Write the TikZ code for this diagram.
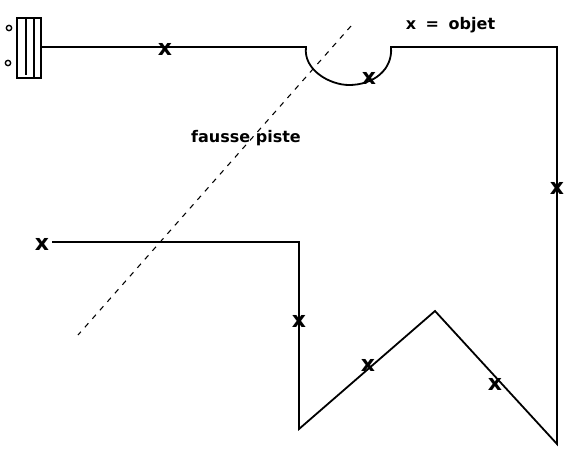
\documentclass[tikz,border=0pt]{standalone}
\usepackage{fontspec}
\setmainfont{DejaVu Sans}
\tikzset{
  wire/.style={draw=black,line width=1.35pt,line join=miter},
  mark x/.style={inner sep=0pt,font=\bfseries\fontsize{16.5pt}{16pt}\selectfont},
  label txt/.style={inner sep=0pt,font=\bfseries\fontsize{12pt}{12pt}\selectfont},
  pin/.style={circle,draw=black,line width=1pt,inner sep=0pt,minimum size=4pt}
}
\begin{document}
\begin{tikzpicture}[x=0.75pt,y=-0.75pt]
\useasboundingbox (0,0) rectangle (581,455);
% box
\node[pin] (p1) at (9,28) {};
\node[pin] (p2) at (8,63) {};
\coordinate (bw) at (41,47);
\draw[wire] (17,18) rectangle (41,78);
\draw[wire] (26,18) -- (26,75);
\draw[wire] (34,18) -- (34,78);
% main line with pit
\draw[wire] (bw) -- (306,47)
  .. controls (303,70) and (330,85) .. (349,85) .. controls (373,85) and (393,70) .. (391,47)
  -- (557,47) -- (557,444) -- (435,311) -- (299,429) -- (299,242) -- (52,242);
% dashed
\coordinate (d1) at (351,26);
\coordinate (d2) at (78,335);
\draw[black,line width=0.8pt,dash pattern=on 4pt off 4.5pt] (d1) -- (d2);
% marks
\node[mark x] (x1) at (165,49) {x};
\node[mark x] (x2) at (369,78) {x};
\node[mark x] (x3) at (557,188) {x};
\node[mark x] (x4) at (42,244) {x};
\node[mark x] (x5) at (299,321) {x};
\node[mark x] (x6) at (368,365) {x};
\node[mark x] (x7) at (495,384) {x};
\node[label txt] (t1) at (450.5,25) {x\hspace{3pt} = \hspace{3pt}objet};
\node[label txt] (t2) at (246,138) {fausse piste};
\end{tikzpicture}
\end{document}
